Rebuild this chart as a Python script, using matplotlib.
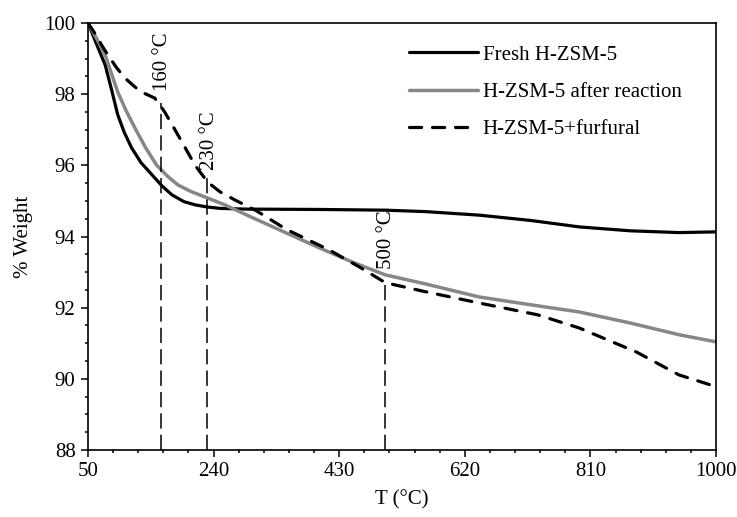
import matplotlib
matplotlib.use('Agg')
import matplotlib.pyplot as plt
from matplotlib.ticker import FixedLocator

plt.rcParams['font.family'] = ['Liberation Serif', 'DejaVu Serif']
plt.rcParams['font.size'] = 15

# Data
t_fresh = [50, 62, 76, 86, 95, 105, 116, 130, 147, 162, 177, 195, 212, 230, 250, 290, 400,
           500, 560, 642, 720, 793, 870, 944, 1000]
w_fresh = [100, 99.45, 98.82, 98.1, 97.42, 96.92, 96.49, 96.08, 95.73, 95.42, 95.17, 94.98,
           94.89, 94.83, 94.79, 94.77, 94.76, 94.74, 94.7, 94.6, 94.45, 94.27, 94.16, 94.11,
           94.13]

t_used = [50, 62, 76, 86, 95, 108, 121, 137, 154, 170, 186, 205, 227, 257, 300, 350, 400,
          450, 500, 560, 642, 720, 793, 870, 944, 1000]
w_used = [100, 99.6, 99.1, 98.55, 98.06, 97.52, 97.05, 96.5, 96.0, 95.7, 95.45, 95.27, 95.11,
          94.89, 94.52, 94.1, 93.68, 93.28, 92.92, 92.67, 92.3, 92.08, 91.88, 91.57, 91.24,
          91.04]

t_furf = [50, 60, 70, 80, 93, 106, 120, 131, 151, 166, 180, 192, 212, 231, 250, 275, 305,
          350, 415, 460, 500, 560, 642, 730, 793, 880, 944, 1000]
w_furf = [100, 99.72, 99.4, 99.1, 98.75, 98.45, 98.22, 98.06, 97.89, 97.5, 97.05, 96.66,
          96.0, 95.53, 95.25, 95.0, 94.72, 94.2, 93.62, 93.15, 92.7, 92.45, 92.13, 91.8,
          91.43, 90.75, 90.11, 89.78]

labels = ['Fresh H-ZSM-5', 'H-ZSM-5 after reaction', 'H-ZSM-5+furfural']

marks_t = [160, 230, 500]
marks_w = [97.75, 95.7, 92.72]
mark_text = ['160 °C', '230 °C', '500 °C']

x_ticks = [50, 240, 430, 620, 810, 1000]
y_ticks = [88, 90, 92, 94, 96, 98, 100]

fig = plt.figure(figsize=(7.37, 5.17), dpi=100)
ax = fig.add_axes([88 / 737, 1 - 450 / 517, 628 / 737, 427 / 517])

ax.plot(t_fresh, w_fresh, color='black', lw=2.3, label=labels[0], solid_capstyle='round')
ax.plot(t_used, w_used, color='#878787', lw=2.5, label=labels[1], solid_capstyle='round')
ax.plot(t_furf, w_furf, color='black', lw=2.3, label=labels[2], dashes=(3.8, 3.4),
        dash_capstyle='round')

# vertical markers and their labels
text_dx = [3, 4, 2]
text_y = [98.1, 95.87, 93.1]
for t, w, s, dx, ty in zip(marks_t, marks_w, mark_text, text_dx, text_y):
    ax.plot([t, t], [88, w], color='black', lw=1.1, dashes=(10, 4))
    ax.text(t + dx, ty, s, rotation=90, ha='center', va='bottom', fontsize=15)

ax.set_xlim(50, 1000)
ax.set_ylim(88, 100)
ax.xaxis.set_major_locator(FixedLocator(x_ticks))
ax.xaxis.set_minor_locator(FixedLocator([50 + 38 * i for i in range(26)]))
ax.yaxis.set_major_locator(FixedLocator(y_ticks))
ax.yaxis.set_minor_locator(FixedLocator([88 + 0.5 * i for i in range(25)]))
ax.tick_params(which='major', direction='out', length=5, width=1.1, labelsize=15, pad=4)
ax.tick_params(which='minor', direction='out', length=2.5, width=1.1)
for sp in ax.spines.values():
    sp.set_linewidth(1.2)

ax.set_xlabel('T (°C)', fontsize=15, labelpad=6)
ax.set_ylabel('% Weight', fontsize=15, labelpad=8)

ax.legend(loc='upper left', bbox_to_anchor=(0.511, 0.948), frameon=False, fontsize=15,
          handlelength=3.3, handletextpad=0.25, labelspacing=0.85, borderpad=0,
          borderaxespad=0)

fig.savefig('out.png', dpi=100)
